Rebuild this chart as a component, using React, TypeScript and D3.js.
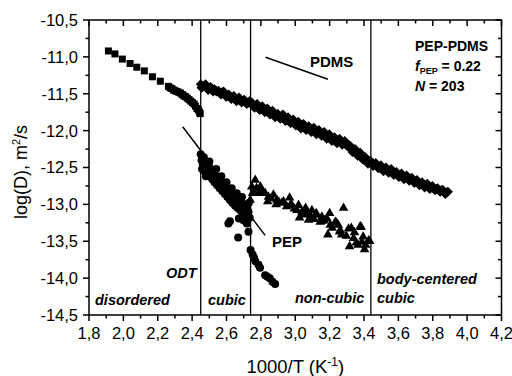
import React from "react";
import * as d3 from "d3";

// ---- data ----
const xMajorTicks = [1.8, 2.0, 2.2, 2.4, 2.6, 2.8, 3.0, 3.2, 3.4, 3.6, 3.8, 4.0, 4.2];
const xMinorTicks = [1.9, 2.1, 2.3, 2.5, 2.7, 2.9, 3.1, 3.3, 3.5, 3.7, 3.9, 4.1];
const yMajorTicks = [-10.5, -11.0, -11.5, -12.0, -12.5, -13.0, -13.5, -14.0, -14.5];
const yMinorTicks = [-10.75, -11.25, -11.75, -12.25, -12.75, -13.25, -13.75, -14.25];

const phaseBoundaries = [2.45, 2.74, 3.44];

// disordered phase (squares)
const squarePts: [number, number][] = [
  [1.913, -10.92], [1.951, -10.96], [1.994, -11.03], [2.039, -11.09], [2.078, -11.14],
  [2.122, -11.19], [2.169, -11.27], [2.215, -11.33], [2.262, -11.4], [2.272, -11.42],
  [2.282, -11.43], [2.292, -11.45], [2.302, -11.46], [2.312, -11.47], [2.322, -11.48],
  [2.332, -11.49], [2.342, -11.51], [2.352, -11.53], [2.362, -11.54], [2.372, -11.56],
  [2.382, -11.58], [2.392, -11.6], [2.402, -11.62], [2.412, -11.64], [2.42, -11.67],
  [2.428, -11.7], [2.436, -11.72], [2.443, -11.75], [2.447, -11.77],
];

// PDMS in ordered phases (diamonds), first run
const diamondPtsA: [number, number][] = [
  [2.45, -11.37], [2.46, -11.4], [2.47, -11.39], [2.485, -11.42], [2.5, -11.43],
  [2.515, -11.45], [2.53, -11.44], [2.545, -11.47], [2.56, -11.49], [2.575, -11.48],
  [2.59, -11.51], [2.605, -11.53], [2.62, -11.54], [2.635, -11.55], [2.65, -11.57],
  [2.665, -11.58], [2.68, -11.58], [2.695, -11.6], [2.71, -11.61], [2.725, -11.62],
  [2.74, -11.63], [2.755, -11.66], [2.77, -11.66], [2.785, -11.69], [2.8, -11.7],
  [2.815, -11.71], [2.83, -11.73], [2.845, -11.74], [2.86, -11.76], [2.875, -11.78],
  [2.89, -11.79], [2.905, -11.81], [2.92, -11.8], [2.935, -11.83], [2.95, -11.85],
  [2.965, -11.86], [2.98, -11.88], [2.995, -11.89], [3.01, -11.91], [3.025, -11.93],
  [3.04, -11.94], [3.055, -11.95], [3.07, -11.97], [3.085, -11.98], [3.1, -11.99],
  [3.115, -12.01], [3.13, -12.02], [3.145, -12.04], [3.16, -12.05], [3.175, -12.07],
  [3.19, -12.08], [3.205, -12.1], [3.22, -12.12], [3.235, -12.13], [3.25, -12.14],
  [3.265, -12.15], [3.28, -12.17], [3.295, -12.19], [3.31, -12.22], [3.325, -12.25],
  [3.34, -12.28], [3.355, -12.3], [3.37, -12.33], [3.385, -12.36], [3.4, -12.38],
  [3.415, -12.41], [3.43, -12.43], [3.445, -12.45], [3.46, -12.46], [3.475, -12.48],
  [3.49, -12.5], [3.505, -12.51], [3.52, -12.52], [3.535, -12.54], [3.55, -12.55],
  [3.565, -12.57], [3.58, -12.58], [3.595, -12.6], [3.61, -12.61], [3.625, -12.62],
  [3.64, -12.63], [3.655, -12.65], [3.67, -12.66], [3.685, -12.68], [3.7, -12.69],
  [3.715, -12.71], [3.73, -12.72], [3.745, -12.73], [3.76, -12.74], [3.775, -12.76],
  [3.79, -12.77], [3.805, -12.78], [3.82, -12.79], [3.835, -12.8], [3.85, -12.81],
  [3.865, -12.83], [3.88, -12.84],
];

// PDMS in ordered phases (diamonds), second run
const diamondPtsB: [number, number][] = [
  [2.455, -11.42], [2.478, -11.37], [2.493, -11.45], [2.508, -11.41], [2.523, -11.47],
  [2.538, -11.46], [2.553, -11.46], [2.568, -11.51], [2.583, -11.47], [2.598, -11.54],
  [2.613, -11.51], [2.628, -11.57], [2.643, -11.53], [2.658, -11.6], [2.673, -11.55],
  [2.688, -11.62], [2.703, -11.58], [2.718, -11.64], [2.733, -11.6], [2.748, -11.62],
  [2.763, -11.69], [2.778, -11.64], [2.793, -11.72], [2.808, -11.67], [2.823, -11.75],
  [2.838, -11.7], [2.853, -11.78], [2.868, -11.73], [2.883, -11.82], [2.898, -11.77],
  [2.913, -11.84], [2.928, -11.78], [2.943, -11.87], [2.958, -11.82], [2.973, -11.9],
  [2.988, -11.85], [3.003, -11.93], [3.018, -11.88], [3.033, -11.97], [3.048, -11.91],
  [3.063, -11.99], [3.078, -11.94], [3.093, -12.02], [3.108, -11.96], [3.123, -12.05],
  [3.138, -11.99], [3.153, -12.07], [3.168, -12.02], [3.183, -12.11], [3.198, -12.05],
  [3.213, -12.14], [3.228, -12.09], [3.243, -12.17], [3.258, -12.11], [3.273, -12.19],
  [3.288, -12.14], [3.303, -12.21], [3.318, -12.2], [3.333, -12.29], [3.348, -12.25],
  [3.363, -12.34], [3.378, -12.3], [3.393, -12.39], [3.408, -12.36], [3.423, -12.45],
  [3.438, -12.41], [3.453, -12.48], [3.468, -12.44], [3.483, -12.51], [3.498, -12.47],
  [3.513, -12.55], [3.528, -12.5], [3.543, -12.57], [3.558, -12.52], [3.573, -12.6],
  [3.588, -12.56], [3.603, -12.63], [3.618, -12.58], [3.633, -12.66], [3.648, -12.61],
  [3.663, -12.68], [3.678, -12.64], [3.693, -12.71], [3.708, -12.67], [3.723, -12.74],
  [3.738, -12.7], [3.753, -12.77], [3.768, -12.72], [3.783, -12.79], [3.798, -12.75],
  [3.813, -12.81], [3.828, -12.78], [3.843, -12.83], [3.858, -12.8], [3.873, -12.86],
  [3.888, -12.83],
];

// PEP in cubic phase (circles)
const circlePts: [number, number][] = [
  [2.45, -12.32], [2.455, -12.4], [2.458, -12.52], [2.462, -12.46], [2.468, -12.36],
  [2.472, -12.55], [2.478, -12.44], [2.485, -12.5], [2.49, -12.58], [2.497, -12.48],
  [2.503, -12.62], [2.51, -12.54], [2.517, -12.66], [2.523, -12.58], [2.53, -12.7],
  [2.537, -12.62], [2.545, -12.74], [2.552, -12.66], [2.56, -12.78], [2.568, -12.7],
  [2.575, -12.82], [2.583, -12.74], [2.59, -12.86], [2.598, -12.78], [2.605, -12.9],
  [2.612, -12.82], [2.62, -12.94], [2.628, -12.86], [2.635, -12.98], [2.643, -12.9],
  [2.65, -13.02], [2.658, -12.93], [2.665, -13.05], [2.673, -12.96], [2.68, -13.08],
  [2.688, -12.98], [2.695, -13.12], [2.703, -13.0], [2.712, -13.15], [2.72, -13.05],
  [2.728, -13.1], [2.611, -13.26], [2.62, -13.23], [2.668, -13.45], [2.672, -13.19],
  [2.718, -13.26], [2.728, -13.37], [2.7, -13.22], [2.74, -13.62], [2.752, -13.68],
  [2.76, -13.72], [2.768, -13.77], [2.786, -13.82], [2.795, -13.86], [2.825, -13.96],
  [2.838, -13.98], [2.852, -14.0], [2.868, -14.05], [2.883, -14.08],
  [2.48, -12.62], [2.5, -12.42], [2.54, -12.52], [2.57, -12.62], [2.6, -12.7],
  [2.63, -12.78], [2.66, -12.85], [2.69, -12.9], [2.73, -12.98], [2.735, -13.18],
];

// PEP in non-cubic phase (triangles)
const trianglePts: [number, number][] = [
  [2.747, -12.76], [2.767, -12.67], [2.738, -12.94], [2.752, -12.85], [2.786, -12.85],
  [2.797, -12.76], [2.825, -12.85], [2.844, -12.9], [2.84, -12.96], [2.873, -12.87],
  [2.889, -13.0], [2.893, -12.94], [2.922, -12.98], [2.932, -12.96], [2.967, -12.91],
  [2.971, -13.01], [2.98, -13.01], [3.01, -13.08], [3.019, -13.01], [3.025, -13.18],
  [3.039, -13.1], [3.058, -13.08], [3.06, -13.05], [3.068, -13.12], [3.077, -13.21],
  [3.097, -13.08], [3.122, -13.12], [3.126, -13.14], [3.145, -13.24], [3.151, -13.23],
  [3.155, -13.17], [3.184, -13.19], [3.19, -13.41], [3.2, -13.12], [3.204, -13.28],
  [3.233, -13.24], [3.239, -13.25], [3.258, -13.37], [3.262, -13.35], [3.281, -13.05],
  [3.297, -13.43], [3.31, -13.33], [3.326, -13.32], [3.316, -13.57], [3.339, -13.46],
  [3.355, -13.52], [3.378, -13.3], [3.384, -13.31], [3.388, -13.51], [3.403, -13.61],
  [3.427, -13.49], [3.433, -13.5],
  [2.757, -12.83], [2.775, -12.78], [2.81, -12.82], [2.86, -12.92], [2.905, -12.97],
  [2.95, -13.03], [2.995, -13.06], [3.045, -13.14], [3.09, -13.16], [3.11, -13.2],
  [3.17, -13.22], [3.215, -13.32], [3.25, -13.28], [3.27, -13.41], [3.345, -13.38],
  [3.365, -13.55], [3.41, -13.55], [3.395, -13.44],
];

// guide lines for slopes
const pdmsLine: [number, number][] = [[2.827, -11.006], [3.19, -11.304]];
const pepLine: [number, number][] = [[2.345, -11.947], [2.825, -13.42]];

const W = 512;
const H = 376;
const L = 89;
const R = 501.5;
const T = 20;
const B = 315;

const FONT = "'Liberation Sans', Arial, Helvetica, sans-serif";

export default function App() {
  const x = d3.scaleLinear().domain([1.8, 4.2]).range([L, R]);
  const y = d3.scaleLinear().domain([-14.5, -10.5]).range([B, T]);
  const fmt = (v: number) => v.toFixed(1).replace(".", ",");
  const line = d3.line<[number, number]>().x((d) => x(d[0])).y((d) => y(d[1]));

  const sq = 7;
  const dm = 5;
  const tri = d3.symbol().type(d3.symbolTriangle).size(40)() as string;
  const diamonds = [...diamondPtsA, ...diamondPtsB];

  return (
    <svg
      width={W}
      height={H}
      style={{ position: "absolute", left: 0, top: 0, background: "#fff" }}
      fontFamily={FONT}
    >
      <rect x={0} y={0} width={W} height={H} fill="#fff" />

      {/* phase boundaries */}
      {phaseBoundaries.map((b) => (
        <line key={b} x1={x(b)} x2={x(b)} y1={T} y2={B} stroke="#000" strokeWidth={1.3} />
      ))}

      {/* guide lines */}
      <path d={line(pdmsLine) as string} stroke="#000" strokeWidth={1.5} fill="none" />
      <path d={line(pepLine) as string} stroke="#000" strokeWidth={1.5} fill="none" />

      {/* data */}
      {squarePts.map((d, i) => (
        <rect key={"s" + i} x={x(d[0]) - sq / 2} y={y(d[1]) - sq / 2} width={sq} height={sq} fill="#000" />
      ))}
      {diamonds.map((d, i) => {
        const cx = x(d[0]);
        const cy = y(d[1]);
        return (
          <path
            key={"d" + i}
            d={`M${cx},${cy - dm}L${cx + dm},${cy}L${cx},${cy + dm}L${cx - dm},${cy}Z`}
            fill="#000"
          />
        );
      })}
      {circlePts.map((d, i) => (
        <circle key={"c" + i} cx={x(d[0])} cy={y(d[1])} r={4} fill="#000" />
      ))}
      {trianglePts.map((d, i) => (
        <path key={"t" + i} d={tri} transform={`translate(${x(d[0])},${y(d[1])})`} fill="#000" />
      ))}

      {/* frame */}
      <rect x={L} y={T} width={R - L} height={B - T} fill="none" stroke="#000" strokeWidth={1.5} />

      {/* x ticks */}
      {xMajorTicks.map((t) => (
        <g key={"xm" + t}>
          <line x1={x(t)} x2={x(t)} y1={B} y2={B + 6} stroke="#000" strokeWidth={1.5} />
          <line x1={x(t)} x2={x(t)} y1={T} y2={T + 6} stroke="#000" strokeWidth={1.5} />
          <text x={x(t)} y={338.5} fontSize={16.5} textAnchor="middle" fill="#000">
            {fmt(t)}
          </text>
        </g>
      ))}
      {xMinorTicks.map((t) => (
        <g key={"xn" + t}>
          <line x1={x(t)} x2={x(t)} y1={B} y2={B + 3.5} stroke="#000" strokeWidth={1.5} />
          <line x1={x(t)} x2={x(t)} y1={T} y2={T + 3.5} stroke="#000" strokeWidth={1.5} />
        </g>
      ))}

      {/* y ticks */}
      {yMajorTicks.map((t) => (
        <g key={"ym" + t}>
          <line x1={L - 6} x2={L} y1={y(t)} y2={y(t)} stroke="#000" strokeWidth={1.5} />
          <line x1={R - 6} x2={R} y1={y(t)} y2={y(t)} stroke="#000" strokeWidth={1.5} />
          <text x={78} y={y(t)} dy="0.36em" fontSize={16.5} textAnchor="end" fill="#000">
            {fmt(t)}
          </text>
        </g>
      ))}
      {yMinorTicks.map((t) => (
        <g key={"yn" + t}>
          <line x1={L - 3.5} x2={L} y1={y(t)} y2={y(t)} stroke="#000" strokeWidth={1.5} />
          <line x1={R - 3.5} x2={R} y1={y(t)} y2={y(t)} stroke="#000" strokeWidth={1.5} />
        </g>
      ))}

      {/* axis titles */}
      <text x={(L + R) / 2} y={373} fontSize={18.5} textAnchor="middle" fill="#000">
        1000/T (K
        <tspan fontSize={12} dy={-7}>-1</tspan>
        <tspan dy={7}>)</tspan>
      </text>
      <text
        transform={`translate(27,172) rotate(-90)`}
        fontSize={18}
        textAnchor="middle"
        fill="#000"
      >
        log(D), m<tspan fontSize={11} dy={-7}>2</tspan>
        <tspan dy={7}>/s</tspan>
      </text>

      {/* annotations */}
      <text x={310} y={66.5} fontSize={15} fontWeight="bold" fill="#000">PDMS</text>
      <text x={272} y={247} fontSize={15} fontWeight="bold" fill="#000">PEP</text>
      <text x={415} y={51} fontSize={14} fontWeight="bold" fill="#000">PEP-PDMS</text>
      <text x={415} y={71} fontSize={14} fontWeight="bold" fill="#000">
        <tspan fontStyle="italic">f</tspan>
        <tspan fontSize={9} dy={3}>PEP</tspan>
        <tspan dy={-3}> = 0.22</tspan>
      </text>
      <text x={415} y={90.5} fontSize={14} fontWeight="bold" fill="#000">
        <tspan fontStyle="italic">N</tspan> = 203
      </text>

      <g fontSize={14.5} fontWeight="bold" fontStyle="italic" fill="#000">
        <text x={166} y={278}>ODT</text>
        <text x={95} y={305}>disordered</text>
        <text x={208} y={305}>cubic</text>
        <text x={295} y={303}>non-cubic</text>
        <text x={377} y={284}>body-centered</text>
        <text x={377} y={303}>cubic</text>
      </g>
    </svg>
  );
}
